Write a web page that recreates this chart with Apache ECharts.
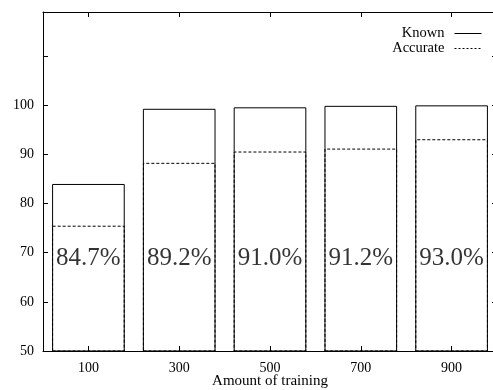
<!DOCTYPE html>
<html>
<head>
<meta charset="utf-8">
<script src="https://cdn.jsdelivr.net/npm/echarts@6/dist/echarts.min.js"></script>
<style>
html,body{margin:0;padding:0;background:#fff;}
#c{width:493px;height:390px;}
</style>
</head>
<body>
<div id="c"></div>
<script>
var categories = ['100', '300', '500', '700', '900'];
var knownValues = [84.0, 99.3, 99.6, 99.9, 100.0];
var accurateValues = [75.5, 88.3, 90.6, 91.2, 93.1];
var percentLabels = ['84.7%', '89.2%', '91.0%', '91.2%', '93.0%'];
var yTickLabels = [50, 60, 70, 80, 90, 100];

var LABEL_Y = 68.8;
var FONT = 'Liberation Serif, Times New Roman, serif';

var chart = echarts.init(document.getElementById('c'), null, {renderer: 'canvas'});

var yCommon = {
  type: 'value', min: 50, max: 119, interval: 10,
  axisLine: {show: true, lineStyle: {color: '#000', width: 1}},
  axisTick: {show: true, inside: true, length: 5, lineStyle: {color: '#000'}},
  splitLine: {show: false}
};

var option = {
  animation: false,
  backgroundColor: '#fff',
  grid: {left: 43, right: -4, top: 12, bottom: 39, outerBoundsMode: 'none', containLabel: false},
  legend: {
    orient: 'vertical', right: 11, top: 26, align: 'right', padding: 0,
    itemWidth: 27, itemHeight: 10, itemGap: 0,
    textStyle: {fontFamily: FONT, fontSize: 14.5, color: '#000', lineHeight: 15, padding: [0, 5, 0, 0]},
    itemStyle: {color: 'rgba(0,0,0,0)', borderColor: 'rgba(0,0,0,0)', borderWidth: 0},
    lineStyle: {width: 1},
    data: [{name: 'Known'}, {name: 'Accurate'}]
  },
  xAxis: [{
    type: 'category', data: categories, position: 'bottom',
    name: 'Amount of training', nameLocation: 'middle', nameGap: 23, nameMoveOverlap: false,
    nameTextStyle: {fontFamily: FONT, fontSize: 15, color: '#000'},
    axisLine: {show: true, lineStyle: {color: '#000', width: 1}},
    axisTick: {show: true, inside: true, length: 5, alignWithLabel: true, lineStyle: {color: '#000'}},
    axisLabel: {fontFamily: FONT, fontSize: 14, color: '#000', margin: 10}
  }, {
    type: 'category', data: categories, position: 'top',
    axisLine: {show: true, lineStyle: {color: '#000', width: 1}},
    axisTick: {show: true, inside: true, length: 5, alignWithLabel: true, lineStyle: {color: '#000'}},
    axisLabel: {show: false}
  }],
  yAxis: [Object.assign({}, yCommon, {
    position: 'left',
    axisLabel: {
      fontFamily: FONT, fontSize: 14, color: '#000', margin: 9,
      formatter: function (v) { return yTickLabels.indexOf(v) >= 0 ? String(v) : ''; }
    }
  }), Object.assign({}, yCommon, {
    position: 'right',
    axisLabel: {show: false}
  })],
  series: [{
    name: 'Known', type: 'line', data: [], symbol: 'none',
    lineStyle: {color: '#000', width: 1, type: 'solid'}, itemStyle: {color: '#000'}
  }, {
    name: 'Accurate', type: 'line', data: [], symbol: 'none',
    lineStyle: {color: '#000', width: 1, type: [2, 2]}, itemStyle: {color: '#000'}
  }, {
    name: 'Known', type: 'bar', data: knownValues, barWidth: '80%', barGap: '-100%',
    itemStyle: {color: 'rgba(0,0,0,0)', borderColor: '#000', borderWidth: 1},
    z: 2
  }, {
    name: 'Accurate', type: 'bar', data: accurateValues, barWidth: '80%', barGap: '-100%',
    itemStyle: {color: 'rgba(0,0,0,0)', borderColor: '#000', borderWidth: 1, borderType: [3, 2]},
    z: 3
  }, {
    name: 'labels', type: 'scatter', symbolSize: 0, silent: true,
    data: categories.map(function (c, i) { return [c, LABEL_Y, percentLabels[i]]; }),
    label: {
      show: true, position: 'inside', color: '#000', fontFamily: FONT, fontSize: 25,
      formatter: function (p) { return p.data[2]; }
    },
    z: 5
  }]
};
chart.setOption(option);
</script>
</body>
</html>
